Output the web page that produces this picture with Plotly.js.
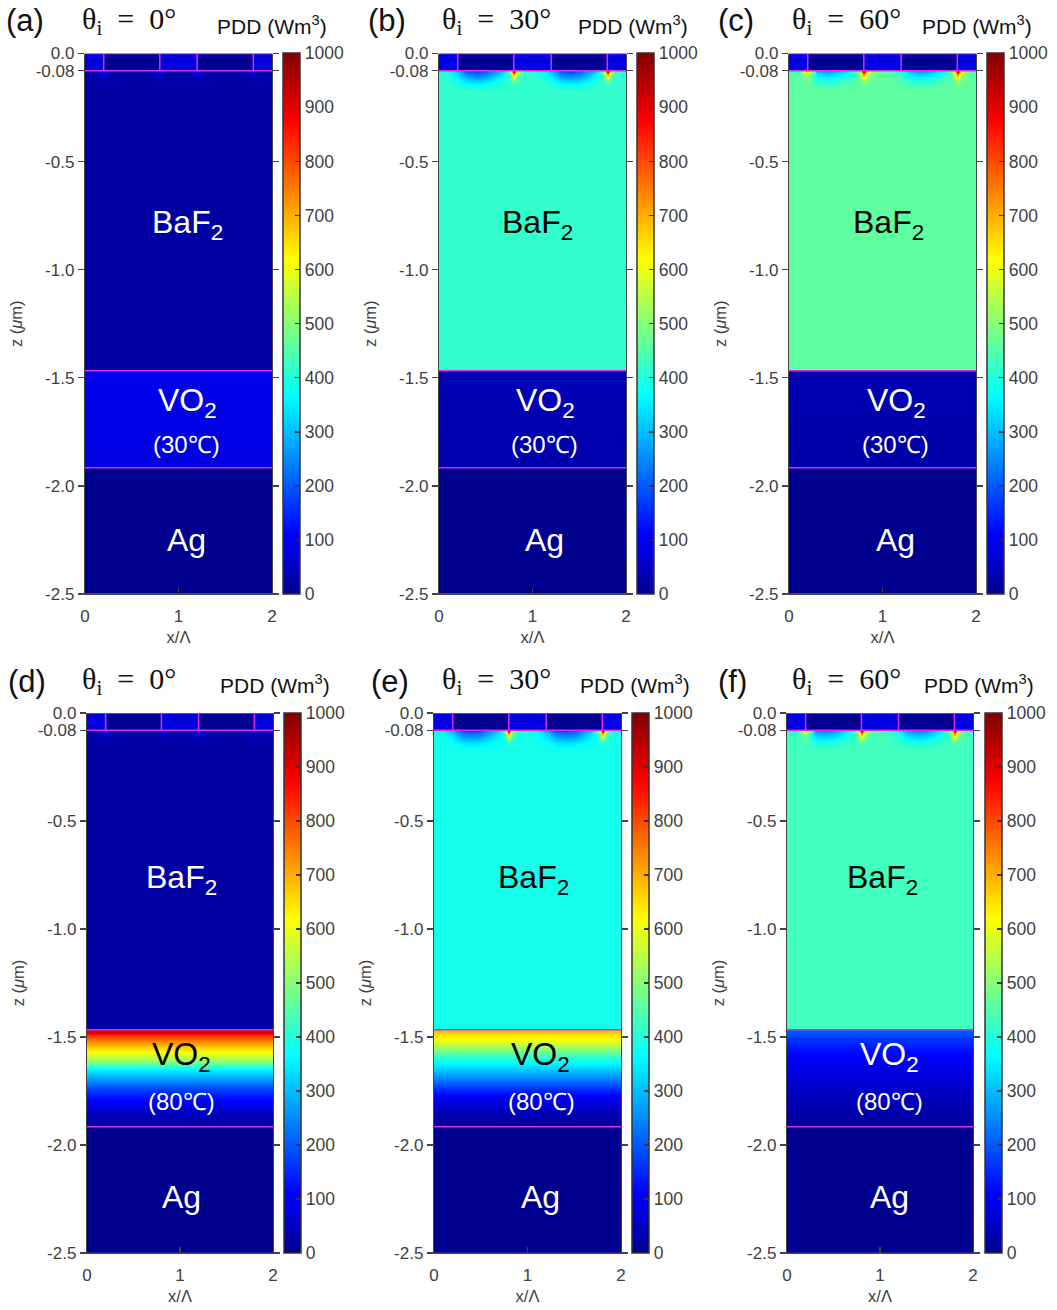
<!DOCTYPE html>
<html><head><meta charset="utf-8">
<script src="https://cdn.plot.ly/plotly-3.0.1.min.js"></script>
<style>html,body{margin:0;padding:0;background:#fff}</style>
</head><body><div id="chart" style="width:1057px;height:1310px"></div>
<script>
const W = 1057, H = 1310;

// ---- data ----
const panelLabels = ['(a)', '(b)', '(c)', '(d)', '(e)', '(f)'];
const incidenceAngles = [0, 30, 60, 0, 30, 60];
const vo2Temps = ['(30℃)', '(30℃)', '(30℃)', '(80℃)', '(80℃)', '(80℃)'];
const yTickVals = [0, -0.08, -0.5, -1.0, -1.5, -2.0, -2.5];
const yTickText = ['0.0', '-0.08', '-0.5', '-1.0', '-1.5', '-2.0', '-2.5'];
const xTickVals = [0, 1, 2];
const cbTickVals = [0, 100, 200, 300, 400, 500, 600, 700, 800, 900, 1000];

// layer boundaries (µm): top, grating bottom, BaF2 bottom, VO2 bottom, Ag bottom
const layerBounds = [0, -0.08, -1.467, -1.916, -2.5];
// grating block edges (x/Λ)
const gratingEdges = [0, 0.2, 0.8, 1.2, 1.8, 2.0];
const gratingLight = [75, 85, 85, 75, 85, 85];
const gratingDark = [3, 3, 3, 3, 3, 3];
const baf2Bulk = [20, 415, 460, 20, 385, 430];
const agValue = [0, 0, 0, 0, 0, 0];

// BaF2 near-interface field samples
const xSamples = [0, 0.1, 0.2, 0.3, 0.4, 0.5, 0.6, 0.7, 0.77, 0.8, 0.83, 0.9, 1.0, 1.1, 1.2, 1.3, 1.4, 1.5, 1.6, 1.7, 1.77, 1.8, 1.83, 1.9, 2.0];
const baf2Depth = [-0.08, -0.1, -0.13, -0.17, -0.22];
const ifaceA = [40, 35, 120, 30, 25, 25, 25, 30, 60, 130, 60, 35, 35, 35, 120, 30, 25, 25, 25, 30, 60, 130, 60, 35, 40];
const nearA  = [28, 26, 50, 24, 22, 22, 22, 24, 35, 55, 35, 26, 26, 26, 50, 24, 22, 22, 22, 24, 35, 55, 35, 26, 28];
const deepA  = [22, 22, 26, 21, 20, 20, 20, 21, 24, 28, 24, 22, 22, 22, 26, 21, 20, 20, 20, 21, 24, 28, 24, 22, 22];
const ifaceB = [400, 380, 300, 200, 180, 210, 270, 330, 500, 1000, 560, 420, 410, 380, 300, 200, 180, 210, 270, 330, 500, 1000, 560, 420, 400];
const nearB  = [405, 395, 340, 260, 240, 260, 310, 370, 440, 700, 470, 415, 412, 395, 340, 260, 240, 260, 310, 370, 440, 700, 470, 415, 405];
const deepB  = [412, 410, 390, 350, 335, 345, 375, 400, 415, 450, 420, 415, 415, 410, 390, 350, 335, 345, 375, 400, 415, 450, 420, 415, 412];
const ifaceC = [440, 420, 700, 300, 270, 290, 340, 400, 560, 1000, 640, 490, 470, 450, 380, 300, 270, 290, 340, 400, 560, 1000, 640, 490, 450];
const nearC  = [452, 445, 520, 350, 330, 345, 380, 430, 490, 720, 530, 470, 465, 455, 420, 350, 330, 345, 380, 430, 490, 720, 530, 470, 452];
const deepC  = [458, 456, 470, 420, 410, 418, 435, 450, 462, 500, 470, 462, 460, 458, 445, 420, 410, 418, 435, 450, 462, 500, 470, 462, 458];
const ifaceD = [40, 35, 120, 30, 25, 25, 25, 30, 60, 130, 60, 35, 35, 35, 120, 30, 25, 25, 25, 30, 60, 130, 60, 35, 40];
const nearD  = [28, 26, 50, 24, 22, 22, 22, 24, 35, 55, 35, 26, 26, 26, 50, 24, 22, 22, 22, 24, 35, 55, 35, 26, 28];
const deepD  = [22, 22, 26, 21, 20, 20, 20, 21, 24, 28, 24, 22, 22, 22, 26, 21, 20, 20, 20, 21, 24, 28, 24, 22, 22];
const ifaceE = [380, 360, 290, 200, 180, 200, 260, 320, 490, 1000, 540, 400, 390, 360, 290, 200, 180, 200, 260, 320, 490, 1000, 540, 400, 380];
const nearE  = [383, 375, 330, 260, 240, 255, 300, 350, 420, 680, 450, 390, 386, 375, 330, 260, 240, 255, 300, 350, 420, 680, 450, 390, 383];
const deepE  = [385, 383, 370, 335, 320, 330, 355, 375, 388, 430, 392, 386, 385, 383, 370, 335, 320, 330, 355, 375, 388, 430, 392, 386, 385];
const ifaceF = [410, 390, 660, 270, 240, 260, 310, 370, 530, 1000, 610, 460, 440, 420, 350, 270, 240, 260, 310, 370, 530, 1000, 610, 460, 420];
const nearF  = [422, 415, 490, 320, 300, 315, 350, 400, 460, 700, 500, 440, 435, 425, 390, 320, 300, 315, 350, 400, 460, 700, 500, 440, 422];
const deepF  = [428, 426, 440, 390, 380, 388, 405, 420, 432, 470, 440, 432, 430, 428, 415, 390, 380, 388, 405, 420, 432, 470, 440, 432, 428];

// VO2 depth profile
const vo2Depth = [-1.467, -1.514, -1.560, -1.606, -1.653, -1.699, -1.745, -1.792, -1.852, -1.916];
const vo2A = [92, 91, 90, 89, 88, 87, 86, 85, 84, 83];
const vo2B = [38, 37, 36, 35, 34, 33, 32, 31, 30, 29];
const vo2C = [34, 33, 32, 31, 30, 29, 28, 27, 26, 25];
const vo2D = [910, 753, 640, 524, 350, 260, 171, 110, 47, 17];
const vo2E = [680, 610, 495, 385, 310, 230, 150, 86, 37, 10];
const vo2F = [200, 161, 126, 101, 86, 71, 56, 42, 27, 12];

const ifaceRows = [ifaceA, ifaceB, ifaceC, ifaceD, ifaceE, ifaceF];
const nearRows = [nearA, nearB, nearC, nearD, nearE, nearF];
const deepRows = [deepA, deepB, deepC, deepD, deepE, deepF];
const vo2Profiles = [vo2A, vo2B, vo2C, vo2D, vo2E, vo2F];

// text label x-positions (x/Λ): BaF2, VO2, temp, Ag
const labelX = [
  [1.10, 1.10, 1.09, 1.09],
  [1.05, 1.14, 1.13, 1.13],
  [1.06, 1.15, 1.14, 1.14],
  [1.02, 1.02, 1.02, 1.02],
  [1.06, 1.14, 1.15, 1.14],
  [1.03, 1.10, 1.10, 1.10]
];
const baf2TextColor = ['white', 'black', 'black', 'white', 'black', 'black'];
const vo2TextColor = ['white', 'white', 'white', 'black', 'black', 'white'];

// ---- layout geometry (pixels) ----
const plotX = [[85, 272], [439, 626], [789, 976], [87, 273], [434, 621], [787, 973]];
const rowY = [[53.5, 594], [713, 1253]];
const cbLeft = [283, 637, 987, 284, 632, 985];
const headerY = [[21, 21, 25], [681, 681, 684]];
const headerX = [[4, 80, 215], [366, 440, 576], [716, 790, 920], [6, 80, 218], [369, 440, 578], [716, 790, 922]];
const textY = [[-0.79, -1.615, -1.81, -2.25], [-0.77, -1.59, -1.80, -2.24]];

const jet = [[0, 'rgb(0,0,143)'], [0.111, 'rgb(0,0,255)'], [0.365, 'rgb(0,255,255)'],
             [0.619, 'rgb(255,255,0)'], [0.873, 'rgb(255,0,0)'], [1, 'rgb(128,0,0)']];

function edgesOf(s, lo, hi) {
  const e = [lo];
  for (let i = 1; i < s.length; i++) e.push((s[i - 1] + s[i]) / 2);
  e.push(hi);
  return e;
}
const px2fx = p => p / W;
const py2fy = p => 1 - p / H;

const traces = [];
const layout = {
  width: W, height: H, margin: {l: 0, r: 0, t: 0, b: 0},
  paper_bgcolor: 'white', plot_bgcolor: 'white', showlegend: false,
  font: {family: 'Liberation Sans, Arial, sans-serif', color: '#404040'},
  annotations: [], shapes: []
};
const lineCol = 'rgb(225,40,235)';
const axisCol = '#444';

for (let p = 0; p < 6; p++) {
  const n = p + 1;
  const xs = n === 1 ? 'x' : 'x' + n;
  const ys = n === 1 ? 'y' : 'y' + n;
  const ca = n === 1 ? 'coloraxis' : 'coloraxis' + n;
  const row = p < 3 ? 0 : 1;
  const [ry0, ry1] = rowY[row];
  const [px0, px1] = plotX[p];

  // BaF2 layer with near-interface structure
  const bulkRow = xSamples.map(() => baf2Bulk[p]);
  traces.push({
    type: 'heatmap', xaxis: xs, yaxis: ys, coloraxis: ca, zsmooth: 'best', hoverinfo: 'skip',
    x: edgesOf(xSamples, 0, 2),
    y: edgesOf(baf2Depth, layerBounds[1], layerBounds[2]),
    z: [ifaceRows[p], nearRows[p], deepRows[p], bulkRow, bulkRow]
  });
  // VO2 layer
  traces.push({
    type: 'heatmap', xaxis: xs, yaxis: ys, coloraxis: ca, zsmooth: 'best', hoverinfo: 'skip',
    x: [0, 1, 2],
    y: edgesOf(vo2Depth, layerBounds[2], layerBounds[3]),
    z: vo2Profiles[p].map(v => [v, v])
  });
  // Ag layer
  traces.push({
    type: 'heatmap', xaxis: xs, yaxis: ys, coloraxis: ca, zsmooth: false, hoverinfo: 'skip',
    x: [0, 2], y: [layerBounds[3], layerBounds[4]], z: [[agValue[p]]]
  });
  // grating layer
  const gRow = [gratingLight[p], gratingDark[p], gratingLight[p], gratingDark[p], gratingLight[p]];
  traces.push({
    type: 'heatmap', xaxis: xs, yaxis: ys, coloraxis: ca, zsmooth: false, hoverinfo: 'skip',
    x: gratingEdges, y: [layerBounds[0], layerBounds[1]], z: [gRow]
  });

  const xa = n === 1 ? 'xaxis' : 'xaxis' + n;
  const ya = n === 1 ? 'yaxis' : 'yaxis' + n;
  const tickFont = {size: 17, color: '#404040', family: 'Liberation Sans, Arial, sans-serif'};
  layout[xa] = {
    domain: [px2fx(px0), px2fx(px1)], anchor: ys, range: [0, 2],
    tickvals: xTickVals, ticks: 'inside', ticklen: 6, tickcolor: axisCol, tickwidth: 1.2,
    ticklabelstandoff: 6,
    showline: true, linecolor: axisCol, linewidth: 1.2, showgrid: false, zeroline: false,
    tickfont: tickFont, fixedrange: true,
    title: {text: 'x/Λ', font: {size: 16.5, color: '#404040'}, standoff: 6}
  };
  layout[ya] = {
    domain: [py2fy(ry1), py2fy(ry0)], anchor: xs, range: [-2.5, 0],
    tickvals: yTickVals, ticktext: yTickText, ticks: 'outside', ticklen: 6, tickcolor: axisCol, tickwidth: 1.2,
    showline: true, mirror: 'ticks', linecolor: axisCol, linewidth: 1.2, showgrid: false, zeroline: false,
    tickfont: tickFont, fixedrange: true,
    title: {text: 'z (<i>μ</i>m)', font: {size: 16.5, color: '#404040'}, standoff: 8}
  };
  // top axis with outward ticks
  const tn = n + 6;
  layout['xaxis' + tn] = {
    overlaying: xs, anchor: ys, side: 'top', range: [0, 2], tickvals: xTickVals,
    ticks: 'outside', ticklen: 6, tickcolor: axisCol, tickwidth: 1.2, showticklabels: false,
    showline: true, linecolor: axisCol, linewidth: 1.2, showgrid: false, zeroline: false, fixedrange: true
  };

  layout[ca] = {
    cmin: 0, cmax: 1000, colorscale: jet,
    colorbar: {
      x: px2fx(cbLeft[p]), xanchor: 'left', xpad: 0, ypad: 0,
      y: py2fy((ry0 + ry1) / 2), yanchor: 'middle',
      len: (ry1 - ry0) / H, lenmode: 'fraction', thickness: 17, thicknessmode: 'pixels',
      outlinewidth: 1.5, outlinecolor: '#333',
      tickvals: cbTickVals, ticks: 'inside', ticklen: 5, tickcolor: '#333', tickwidth: 1.2,
      tickfont: {size: 17.5, color: '#404040', family: 'Liberation Sans, Arial, sans-serif'}
    }
  };

  // magenta layer outlines
  [layerBounds[0], layerBounds[1], layerBounds[2], layerBounds[3]].forEach(yb => {
    layout.shapes.push({type: 'line', xref: xs, yref: ys, x0: 0, x1: 2, y0: yb, y1: yb,
      line: {color: lineCol, width: 1.5}});
  });
  gratingEdges.slice(1, -1).forEach(xe => {
    layout.shapes.push({type: 'line', xref: xs, yref: ys, x0: xe, x1: xe, y0: layerBounds[0], y1: layerBounds[1],
      line: {color: lineCol, width: 1.5}});
  });

  // in-plot labels
  const ty = textY[row];
  const lx = labelX[p];
  const tf = 'Liberation Sans, Arial, sans-serif';
  layout.annotations.push(
    {xref: xs, yref: ys, x: lx[0], y: ty[0], text: 'BaF<sub>2</sub>', showarrow: false,
     font: {size: 32, color: baf2TextColor[p], family: tf}},
    {xref: xs, yref: ys, x: lx[1], y: ty[1], text: 'VO<sub>2</sub>', showarrow: false,
     font: {size: 32, color: vo2TextColor[p], family: tf}},
    {xref: xs, yref: ys, x: lx[2], y: ty[2], text: vo2Temps[p], showarrow: false,
     font: {size: 24, color: 'white', family: tf}},
    {xref: xs, yref: ys, x: lx[3], y: ty[3], text: 'Ag', showarrow: false,
     font: {size: 32, color: 'white', family: tf}}
  );

  // header labels
  const hx = headerX[p], hy = headerY[row];
  layout.annotations.push(
    {xref: 'paper', yref: 'paper', x: px2fx(hx[0]), y: py2fy(hy[0]), xanchor: 'left', yanchor: 'middle',
     text: panelLabels[p], showarrow: false, font: {size: 31, color: '#111', family: tf}},
    {xref: 'paper', yref: 'paper', x: px2fx(hx[1]), y: py2fy(hy[1]), xanchor: 'left', yanchor: 'middle',
     text: 'θ<sub>i</sub>\u2002=\u2002' + incidenceAngles[p] + '°', showarrow: false,
     font: {size: 30, color: '#111', family: 'Liberation Serif, Times New Roman, serif'}},
    {xref: 'paper', yref: 'paper', x: px2fx(hx[2]), y: py2fy(hy[2]), xanchor: 'left', yanchor: 'middle',
     text: 'PDD (Wm<sup>3</sup>)', showarrow: false, font: {size: 21, color: '#111', family: tf}}
  );
}

Plotly.newPlot('chart', traces, layout, {displayModeBar: false, staticPlot: true});
</script>
</body></html>
